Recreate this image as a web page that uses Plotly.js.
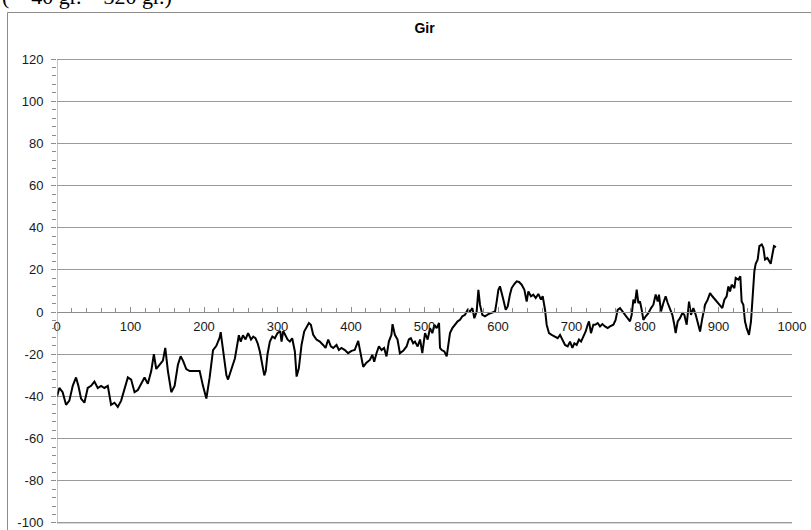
<!DOCTYPE html>
<html>
<head>
<meta charset="utf-8">
<script src="https://cdn.plot.ly/plotly-3.0.1.min.js"></script>
<style>
  html, body { margin: 0; padding: 0; background: #ffffff; overflow: hidden; }
  #chart { width: 811px; height: 530px; }
</style>
</head>
<body>
<div id="chart"></div>
<script>
// Data
const seriesName = "Gir";
const headerText = "( – 40 gr. – 320 gr.)";

const xPositions = [
  0, 3.2, 7.7, 12.3, 16.8, 21.4, 25.9, 29.1, 32.7, 37.3,
  41.8, 46.4, 50.9, 55.5, 60, 64.5, 69.1, 71.4, 73.6, 78.2,
  82.7, 87.3, 91.8, 96.4, 100.9, 105.5, 110, 114.5, 119.1, 123.6,
  128.2, 131.8, 135, 139.5, 144.1, 147.3, 150.9, 155.5, 160, 164.5,
  168.2, 171.4, 175.9, 180.5, 187.3, 194.1, 198.6, 203.2, 207.7, 212.3,
  216.8, 221.4, 222.7, 225.9, 230.5, 232.7, 237.3,
  242, 244, 247.4, 250, 253, 256.5, 260, 264, 267, 270,
  273, 276, 279, 282, 284, 286.4, 289.6, 293, 296.4, 300,
  303.7, 305.5, 307.8, 311, 313.6, 316.8, 320, 323.6, 326, 329,
  332.7, 336.3, 339.5, 342.7, 345.4, 348.6, 353, 357.6, 362, 365.4,
  369, 372.6, 375.8, 380.3, 383.5, 387, 391.7, 396, 400.7, 405,
  409.8, 413.4, 416.6, 421, 425.7, 429, 431.6, 434.7, 438, 441.5,
  445, 448.3, 451.5, 455, 456.5, 459.7, 463.3, 466.5, 471, 475.6,
  478.7, 481.4, 484.6,
  487, 490.7, 494, 497, 500.7, 504.3, 507.5, 510.7, 513.4, 516.6,
  519.8, 521.1, 523.4, 527, 530.2, 532.5, 534.7, 537.9, 541.5, 545.1,
  548.3, 551.5, 555.1, 558.8, 561.9, 565.1, 567.8, 571, 573.3, 575.5,
  578.7, 582.3, 586.9, 591.4, 596, 598.2, 600.5, 602.7, 605, 607.3,
  610.5, 613.2, 616.3, 618.6, 622.2, 625.4, 628.6, 632.2, 635.9, 639,
  641.3, 644.9, 648.1, 651.3, 654.9, 658.5, 660.8, 664, 666.2, 669.4,
  673, 676.7, 681.2, 684.4, 687.5, 691.2, 694.8, 698, 701.2, 703.9,
  707, 710.2, 713, 716.1, 719.3, 722, 723.8, 726.5, 729.7,
  732, 735.6, 738.8, 742, 745.6, 749.2, 752.4, 757, 760, 762.8,
  766, 769.2, 772.8, 776.4, 779.6, 781.9, 784.2, 786.4, 788.7, 791,
  793.2, 795.5, 797.8, 801, 804.6, 808.2, 811.4, 814.5, 817.3, 819,
  821.8, 825, 828.1, 830.9, 834, 837.2, 839.9, 841.7, 844.5, 847.6,
  850.8, 853.5, 856.7, 859.9, 862.6, 865.8, 869, 871.7, 874.9, 878,
  881.7, 885.3, 888.5, 891.6, 895.3, 898.9, 902, 905.2, 908, 911.1,
  913.4, 915.7, 917.9, 921.6, 923.4, 927, 929.7, 931.5, 933.8, 936,
  938.3, 941.5, 944.2, 946.5, 948.8, 950.6, 953.3, 955.6, 958.8, 961,
  963.3, 966.5, 968.7, 971, 973.3, 975.5, 978.2
];

const girValues = [
  -40, -36, -38, -44, -42, -35, -31, -35, -41, -43,
  -36, -35, -33, -36, -35, -36, -35, -39, -44, -43,
  -45, -42, -36, -31, -32, -38, -37, -34, -31, -34,
  -28, -20, -27, -25, -23, -17, -28, -38, -35, -25,
  -21, -23, -27, -28, -28, -28, -35, -41, -31, -18,
  -16, -12, -9.5, -19, -30, -32, -27,
  -22, -18, -11, -14, -11, -13, -10, -13, -11.6, -12.4,
  -14.8, -18.7, -25, -30, -28, -20, -14, -11.6, -12.4, -10,
  -9, -14, -9, -11.6, -13, -14, -12.4, -18.7, -30.6, -26.7,
  -15.6, -9.2, -6.8, -5.2, -6, -10.8, -13, -14, -15.6, -17,
  -13, -16.3, -17, -15.6, -18, -17, -18, -19.5, -18.4, -18,
  -13.7, -19.5, -26, -24, -22.7, -20.3, -23.5, -19.5, -16.3, -18,
  -17, -21, -14, -10.8, -5.7, -10.8, -13, -19.5, -18.4, -16.3,
  -13, -12.4, -14.8,
  -14, -16.3, -13, -19.5, -10, -13, -7.6, -10, -6, -7.6,
  -5.2, -17, -18, -18.7, -21, -14.8, -10, -7.6, -6, -4.4,
  -3.7, -2, -1.3, 1.1, 0.3, 1.9, -2.9, 0.3, 10.6, 3.5,
  -1.3, -2, -1, -0.5, 0.3, 5, 10.6, 12.2, 8.3, 5.9,
  1.1, 2.7, 8.3, 11.4, 13.3, 14.6, 14.3, 13, 10.6, 5,
  9.8, 7.5, 8.3, 6.7, 8.6, 5.9, 7.5, 1.1, -6, -10,
  -10.8, -11.6, -12.4, -10.8, -13, -15.6, -16.3, -14, -17, -14.8,
  -15.6, -13, -14, -11.6, -9.2, -6, -4.4, -10, -6,
  -6, -5.2, -6.8, -5.7, -6.8, -7.6, -6.8, -6, -3.7, 1.1,
  1.9, 0.3, -1, -2.9, -4.4, -1.3, 5.9, 4.3, 10.6, 4.3,
  5, 1.1, -3.7, -2, -0.5, 1.9, 3.5, 8.3, 5, 8.3,
  0.3, 4.3, 7.5, 4.3, 1.9, -1.3, -6, -10, -4.4, -2.9,
  -0.5, -1.3, -6, 5, -1.3, 1.9, -1.3, -4.4, -9.2, -2.9,
  3.5, 5.9, 9, 7.5, 5.9, 4.3, 3.5, 1.9, 5.9, 7.5,
  12.2, 9.8, 13, 11.4, 16.2, 15.4, 17, 5, 3.5, -4.4,
  -7.6, -10.8, -4.4, 6.7, 19.4, 22.9, 24.9, 31.3, 32.1, 30.5,
  24.9, 25.7, 24.1, 22.9, 27.3, 31.3, 30.8
];

const xTickVals = [0, 100, 200, 300, 400, 500, 600, 700, 800, 900, 1000];
const xTickText = ["0", "100", "200", "300", "400", "500", "600", "700", "800", "900", "1000"];
const yTickVals = [-100, -80, -60, -40, -20, 0, 20, 40, 60, 80, 100, 120];
const yTickText = ["-100", "-80", "-60", "-40", "-20", "0", "20", "40", "60", "80", "100", "120"];

// Layout geometry (pixels)
const W = 811, H = 530;
const L = 57, R = 792, T = 57, B = 525;
const yLo = -101, yHi = 121;
const pw = R - L, ph = B - T;
const px2x = p => (p - L) / pw;
const px2y = p => (B - p) / ph;

const trace = {
  x: xPositions,
  y: girValues,
  type: 'scatter',
  mode: 'lines',
  name: seriesName,
  line: { color: '#000000', width: 2 },
  hoverinfo: 'skip'
};

const labelFont = { family: 'Liberation Sans, Arial, sans-serif', size: 13, color: '#1a1a1a' };
const axisGray = '#8c8c8c';

const layout = {
  width: W,
  height: H,
  margin: { l: L, r: W - R, t: T, b: H - B, pad: 0 },
  paper_bgcolor: '#ffffff',
  plot_bgcolor: '#ffffff',
  showlegend: false,
  title: {
    text: '<b>' + seriesName + '</b>',
    font: { family: 'Liberation Sans, Arial, sans-serif', size: 14, color: '#000000' },
    x: 0.5, xref: 'paper', xanchor: 'center',
    y: 1 - 28 / H, yref: 'container', yanchor: 'middle'
  },
  xaxis: {
    range: [0, 1000],
    tickvals: xTickVals,
    ticktext: xTickText,
    showgrid: false,
    zeroline: false,
    showline: true,
    linecolor: axisGray,
    linewidth: 1,
    ticks: 'inside',
    ticklen: 5,
    tickcolor: axisGray,
    minor: { dtick: 20, ticks: 'inside', ticklen: 4, tickcolor: axisGray },
    anchor: 'free',
    position: (0 - yLo) / (yHi - yLo),
    tickfont: labelFont,
    ticklabelstandoff: 2,
    ticklabeloverflow: 'allow',
    fixedrange: true
  },
  yaxis: {
    range: [yLo, yHi],
    tickvals: yTickVals,
    ticktext: yTickText,
    showgrid: true,
    gridcolor: '#9a9a9a',
    gridwidth: 1,
    zeroline: false,
    showline: false,
    ticks: 'outside',
    ticklen: 5,
    tickcolor: axisGray,
    minor: { dtick: 4, ticks: 'outside', ticklen: 4, tickcolor: axisGray, showgrid: false },
    tickfont: labelFont,
    ticklabelstandoff: 5,
    ticklabeloverflow: 'allow',
    fixedrange: true
  },
  shapes: [
    {
      type: 'line', xref: 'x', yref: 'y', layer: 'above',
      x0: 0, x1: 0, y0: -100, y1: 120,
      line: { color: axisGray, width: 1 }
    },
    {
      type: 'line', xref: 'x', yref: 'y', layer: 'below',
      x0: 0, x1: 1000, y0: -100, y1: -100,
      line: { color: '#9a9a9a', width: 1 }
    },
    {
      type: 'rect', xref: 'paper', yref: 'paper', layer: 'below',
      x0: px2x(7.5), x1: px2x(830), y0: px2y(560), y1: px2y(12.5),
      line: { color: axisGray, width: 1 },
      fillcolor: 'rgba(0,0,0,0)'
    }
  ],
  annotations: [
    {
      text: headerText,
      xref: 'paper', yref: 'paper',
      x: px2x(0), xanchor: 'left',
      y: px2y(11), yanchor: 'bottom',
      showarrow: false,
      font: { family: 'Liberation Serif, Times New Roman, serif', size: 22, color: '#000000' }
    }
  ]
};

Plotly.newPlot('chart', [trace], layout, { displayModeBar: false, staticPlot: true });
</script>
</body>
</html>
